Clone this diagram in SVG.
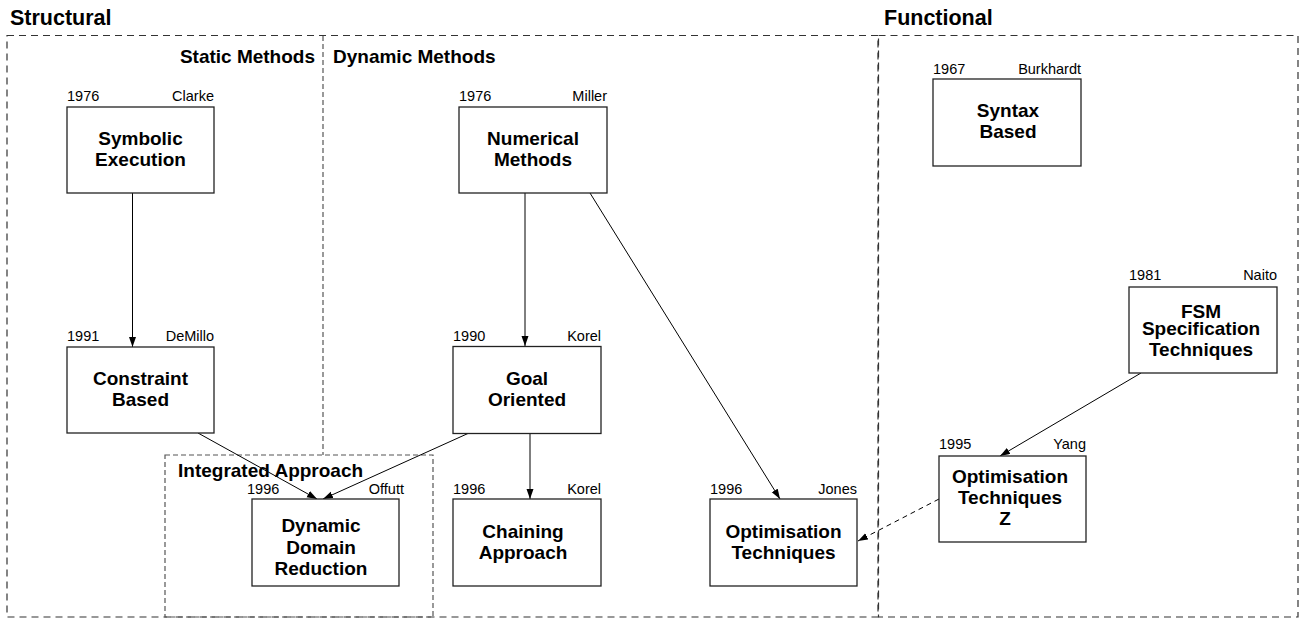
<svg xmlns="http://www.w3.org/2000/svg" width="1302" height="619" viewBox="0 0 1302 619">
<style>
text{font-family:"Liberation Sans",Arial,Helvetica,sans-serif;fill:#000}
.t{font-size:19px;font-weight:bold}
.h{font-size:21.5px;font-weight:bold}
.s{font-size:14.5px}
.e{text-anchor:end}
.m{text-anchor:middle}
.box{fill:#fff;stroke:#222;stroke-width:1.3}
.reg{fill:none;stroke:#333;stroke-width:1.2;stroke-dasharray:7,5}
.sub{fill:none;stroke:#555;stroke-width:1.2;stroke-dasharray:5,3}
.c{fill:none;stroke:#000;stroke-width:1;marker-end:url(#ah)}
.d{stroke-dasharray:5,4}
</style>
<defs>
<marker id="ah" markerUnits="userSpaceOnUse" markerWidth="11" markerHeight="8" refX="10" refY="3.5" orient="auto">
<path d="M0,0 L10,3.5 L0,7 z" fill="#000"/>
</marker>
</defs>
<rect width="1302" height="619" fill="#fff"/>
<g id="regions">
<text class="h" x="10" y="25">Structural</text>
<text class="h" x="884" y="25">Functional</text>
<rect class="reg" x="7" y="35.5" width="871" height="581.5"/>
<rect class="reg" x="878.5" y="35.5" width="419.5" height="581.5"/>
<line class="sub" x1="323" y1="36" x2="323" y2="455"/>
<rect class="sub" x="165" y="455" width="268" height="162"/>
<text class="t e" x="315" y="62.5">Static Methods</text>
<text class="t" x="333" y="62.5">Dynamic Methods</text>
<text class="t" x="178" y="477">Integrated Approach</text>
</g>
<g id="connectors">
<line class="c" x1="132.5" y1="193" x2="132.5" y2="347"/>
<line class="c" x1="525" y1="193" x2="525" y2="346"/>
<line class="c" x1="590" y1="193" x2="780" y2="499"/>
<line class="c" x1="530" y1="433" x2="530" y2="499"/>
<line class="c" x1="198" y1="433" x2="317" y2="499"/>
<line class="c" x1="469" y1="433" x2="323" y2="499"/>
<line class="c" x1="1141" y1="373" x2="1000" y2="456"/>
<line class="c d" x1="939" y1="499" x2="858" y2="541"/>
</g>
<g id="symbolic">
<text class="s" x="67" y="101">1976</text><text class="s e" x="214" y="101">Clarke</text>
<rect class="box" x="67" y="107" width="147" height="86"/>
<text class="t m" x="140.5" y="145">Symbolic</text><text class="t m" x="140.5" y="166">Execution</text>
</g>
<g id="numerical">
<text class="s" x="459" y="101">1976</text><text class="s e" x="607" y="101">Miller</text>
<rect class="box" x="459" y="107" width="148" height="86"/>
<text class="t m" x="533" y="145">Numerical</text><text class="t m" x="533" y="166">Methods</text>
</g>
<g id="syntax">
<text class="s" x="933" y="74">1967</text><text class="s e" x="1081" y="74">Burkhardt</text>
<rect class="box" x="933" y="79" width="148" height="87"/>
<text class="t m" x="1008" y="117">Syntax</text><text class="t m" x="1008" y="138">Based</text>
</g>
<g id="constraint">
<text class="s" x="67" y="341">1991</text><text class="s e" x="214" y="341">DeMillo</text>
<rect class="box" x="67" y="347" width="147" height="86"/>
<text class="t m" x="140.5" y="385">Constraint</text><text class="t m" x="140.5" y="406">Based</text>
</g>
<g id="goal">
<text class="s" x="453" y="341">1990</text><text class="s e" x="601" y="341">Korel</text>
<rect class="box" x="453" y="346.5" width="148" height="87"/>
<text class="t m" x="527" y="384.5">Goal</text><text class="t m" x="527" y="405.5">Oriented</text>
</g>
<g id="fsm">
<text class="s" x="1129" y="280">1981</text><text class="s e" x="1277" y="280">Naito</text>
<rect class="box" x="1129" y="287" width="148" height="86"/>
<text class="t m" x="1201" y="317.5">FSM</text><text class="t m" x="1201" y="335">Specification</text><text class="t m" x="1201" y="356">Techniques</text>
</g>
<g id="ddr">
<text class="s" x="247" y="494">1996</text><text class="s e" x="404" y="494">Offutt</text>
<rect class="box" x="252" y="499" width="147" height="87"/>
<text class="t m" x="321" y="532">Dynamic</text><text class="t m" x="321" y="553.5">Domain</text><text class="t m" x="321" y="574.5">Reduction</text>
</g>
<g id="chaining">
<text class="s" x="453" y="493.5">1996</text><text class="s e" x="601" y="493.5">Korel</text>
<rect class="box" x="453" y="499" width="148" height="87"/>
<text class="t m" x="523" y="537.5">Chaining</text><text class="t m" x="523" y="558.5">Approach</text>
</g>
<g id="optimisation">
<text class="s" x="710" y="493.5">1996</text><text class="s e" x="857" y="493.5">Jones</text>
<rect class="box" x="710" y="499" width="147" height="87"/>
<text class="t m" x="783.5" y="537.5">Optimisation</text><text class="t m" x="783.5" y="558.5">Techniques</text>
</g>
<g id="optz">
<text class="s" x="939" y="449">1995</text><text class="s e" x="1086" y="449">Yang</text>
<rect class="box" x="939" y="456" width="147" height="86"/>
<text class="t m" x="1010" y="482.5">Optimisation</text><text class="t m" x="1010" y="503.5">Techniques</text><text class="t m" x="1005" y="525">Z</text>
</g>
</svg>
